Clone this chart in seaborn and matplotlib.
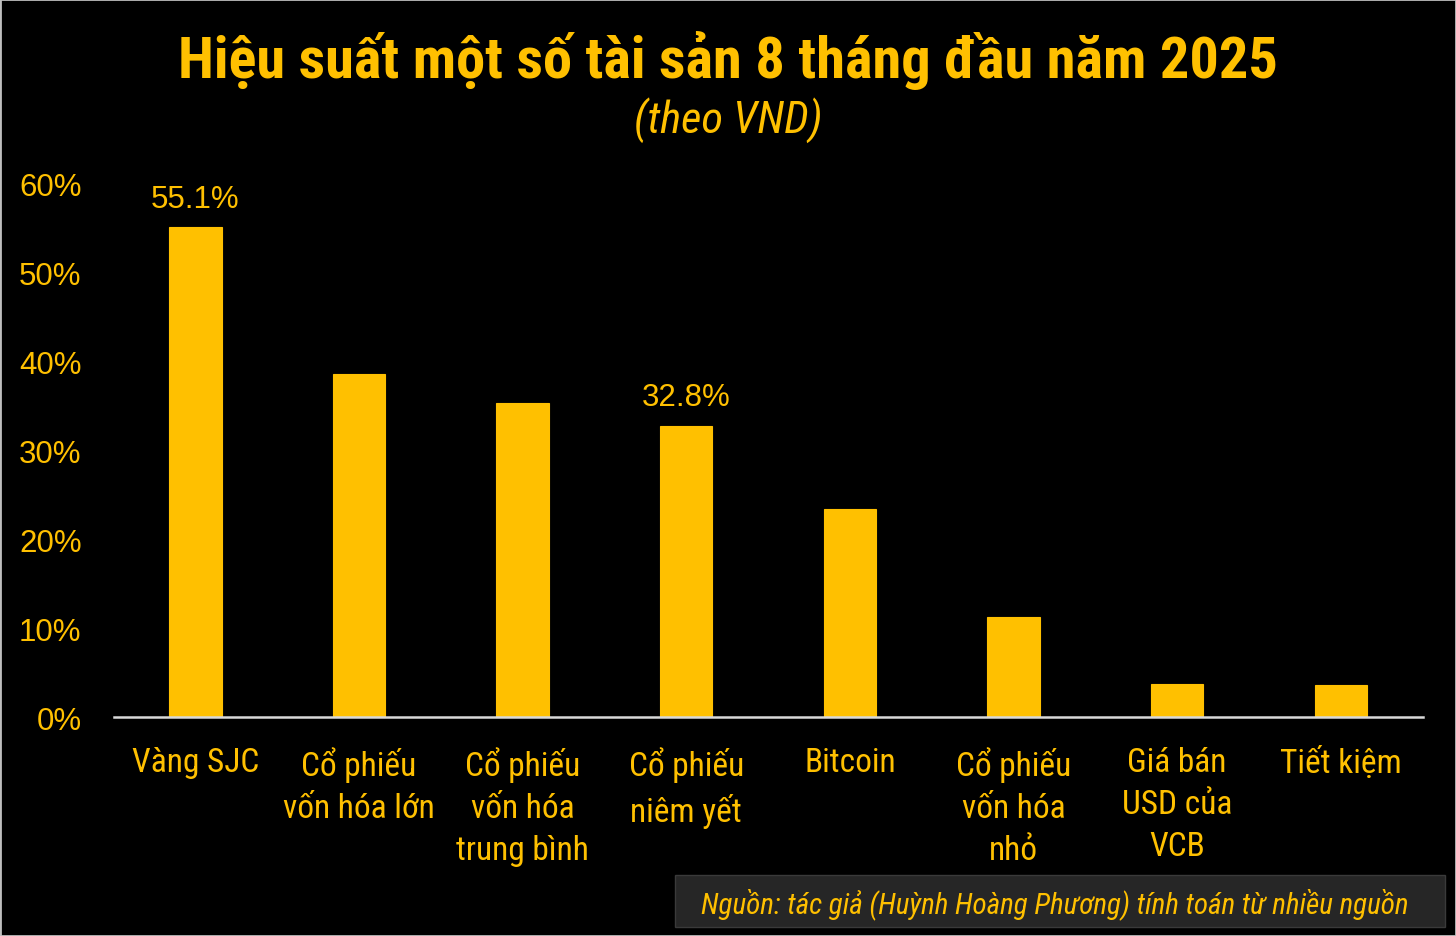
import matplotlib
matplotlib.use('Agg')

import matplotlib.pyplot as plt
import seaborn as sns
import pandas as pd
from matplotlib.patches import Rectangle

# data
categories = ["Vàng SJC", "Cổ phiếu\nvốn hóa lớn", "Cổ phiếu\nvốn hóa\ntrung bình",
              "Cổ phiếu\nniêm yết", "Bitcoin", "Cổ phiếu\nvốn hóa\nnhỏ",
              "Giá bán\nUSD của\nVCB", "Tiết kiệm"]
values = [55.1, 38.6, 35.3, 32.8, 23.4, 11.3, 3.7, 3.6]
shown_labels = ["55.1%", "", "", "32.8%", "", "", "", ""]
yticks = [0, 10, 20, 30, 40, 50, 60]

title = "Hiệu suất một số tài sản 8 tháng đầu năm 2025"
subtitle = "(theo VND)"
source = "Nguồn: tác giả (Huỳnh Hoàng Phương) tính toán từ nhiều nguồn"

gold = "#FFC000"
narrow = ['Roboto Condensed', 'DejaVu Sans']
regular = ['Liberation Sans', 'DejaVu Sans']

sns.set_theme(style="white")
plt.rcParams['font.family'] = regular

df = pd.DataFrame({"asset": categories, "value": values})

fig = plt.figure(figsize=(14.56, 9.37), dpi=100, facecolor="black")
ax = fig.add_axes([0.078, 0.2337, 0.899, 0.569])
ax.set_facecolor("black")

sns.barplot(data=df, x="asset", y="value", color=gold, width=0.32,
            saturation=1, edgecolor=gold, linewidth=0.8, ax=ax)

ax.set_xlim(-0.5, len(categories) - 0.5)
ax.set_ylim(0, 60)
ax.set_yticks(yticks)
ax.set_yticklabels([f"{t}%" for t in yticks], color=gold, fontsize=22.5)
ax.set_xticks(range(len(categories)))
ax.set_xticklabels(categories, color=gold, fontsize=24, family=narrow, linespacing=1.4)
ax.tick_params(axis='y', length=0, pad=23)
ax.tick_params(axis='x', length=0, pad=21)
ax.set_xlabel("")
ax.set_ylabel("")

for s in ["top", "right", "left"]:
    ax.spines[s].set_visible(False)
ax.spines["bottom"].set_color("#D9D9D9")
ax.spines["bottom"].set_linewidth(1.8)

ax.bar_label(ax.containers[0], labels=shown_labels, color=gold, fontsize=22.5, padding=10)

fig.text(0.5, 1 - 78 / 937, title, ha="center", va="baseline", color=gold, fontsize=42,
         fontweight="bold", family=narrow)
fig.text(0.5, 1 - 133 / 937, subtitle, ha="center", va="baseline", color=gold, fontsize=32,
         style="italic", family=narrow)

# source box
fig.patches.append(Rectangle((675 / 1456, 1 - 928 / 937), 770 / 1456, 52 / 937,
                             transform=fig.transFigure, facecolor="#262626",
                             edgecolor="#3a3a3a", linewidth=1))
fig.text(1055 / 1456, 1 - 913 / 937, source, ha="center", va="baseline", color=gold,
         fontsize=21, style="italic", family=narrow)

# thin light border around the picture
fig.patches.append(Rectangle((0, 0), 1, 1, transform=fig.transFigure, fill=False,
                             edgecolor="#BFBFBF", linewidth=2))

fig.savefig("out.png", dpi=100, facecolor="black")
